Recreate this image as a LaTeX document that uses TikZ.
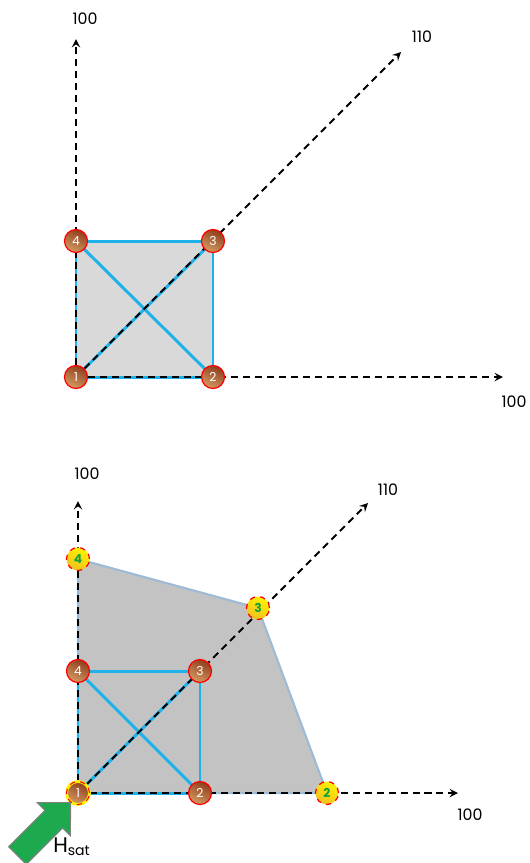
\documentclass[tikz,border=0pt]{standalone}
\usepackage{fontspec}
\setmainfont{Poppins}
\usetikzlibrary{shapes.arrows}
\definecolor{edgeblue}{HTML}{1EB1EA}
\definecolor{squaregray}{HTML}{D9D9D9}
\definecolor{polygray}{HTML}{C3C3C3}
\definecolor{polyedge}{HTML}{9DBAD6}
\definecolor{balldark}{HTML}{8E3E1C}
\definecolor{balllight}{HTML}{D49A62}
\definecolor{yellowdark}{HTML}{F0C020}
\definecolor{yellowlight}{HTML}{FFF200}
\definecolor{hsatgreen}{HTML}{1DAA4E}
\definecolor{numgreen}{HTML}{12A040}
\begin{document}
\begin{tikzpicture}[x=0.02cm, y=-0.02cm, >=stealth, every node/.style={font=\small},
    axis/.style={->, line width=1.1pt, dash pattern=on 4pt off 2.8pt},
    edge/.style={edgeblue, line width=1.7pt},
    corner/.style={circle, inner sep=0pt, minimum size=0.46cm, draw=red, line width=0.7pt, top color=balldark, bottom color=balllight, shading angle=-25, text=white, font=\scriptsize},
    far/.style={corner, top color=yellowlight, bottom color=yellowdark, shading angle=-25, text=numgreen, dashed, font=\scriptsize\bfseries},
    origin/.style={corner, draw=yellow, line width=1.6pt, postaction={draw=red, dashed, line width=0.6pt}}]
    \useasboundingbox (0,0) rectangle (530,863);
    % top: unit square
    \coordinate (t1) at (76,377);
    \coordinate (t2) at (213,377);
    \coordinate (t3) at (213,241);
    \coordinate (t4) at (76,241);
    \coordinate (ty) at (76,39);
    \coordinate (tx) at (503,377);
    \coordinate (td) at (401,52);
    \fill[squaregray] (t1) -- (t2) -- (t3) -- (t4) -- cycle;
    \draw[edge] (t1) -- (t2) -- (t3) -- (t4) -- cycle;
    \draw[edge] (t4) -- (t2);
    \draw[edge] (t1) -- (t3);
    \draw[axis] (t1) -- (ty);
    \draw[axis] (t1) -- (tx);
    \draw[axis] (t1) -- (td);
    \node (ty label) at (85,19) {100};
    \node (td label) at (422,37) {110};
    \node (tx label) at (514,402) {100};
    \node[corner] (tn1) at (t1) {1};
    \node[corner] (tn2) at (t2) {2};
    \node[corner] (tn3) at (t3) {3};
    \node[corner] (tn4) at (t4) {4};
    % bottom: expanded surface
    \coordinate (b1) at (78,793);
    \coordinate (b2) at (200,793);
    \coordinate (b3) at (200,671);
    \coordinate (b4) at (78,671);
    \coordinate (e2) at (327,793);
    \coordinate (e3) at (258,608);
    \coordinate (e4) at (78,559);
    \coordinate (by) at (78,501);
    \coordinate (bx) at (458,793);
    \coordinate (bd) at (368,503);
    \filldraw[fill=polygray, draw=polyedge, line width=1.2pt] (b1) -- (e2) -- (e3) -- (e4) -- cycle;
    \draw[edge] (b1) -- (b2) -- (b3) -- (b4) -- cycle;
    \draw[edge] (b4) -- (b2);
    \draw[edge] (b1) -- (b3);
    \draw[axis] (b1) -- (by);
    \draw[axis] (b1) -- (bx);
    \draw[axis] (b1) -- (bd);
    \node (by label) at (87,474) {100};
    \node (bd label) at (388,490) {110};
    \node (bx label) at (470,815) {100};
    \node[corner] (bn2) at (b2) {2};
    \node[corner] (bn3) at (b3) {3};
    \node[corner] (bn4) at (b4) {4};
    \node[far] (en2) at (e2) {2};
    \node[far] (en3) at (e3) {3};
    \node[far] (en4) at (e4) {4};
    \node[origin] (bn1) at (b1) {1};
    \node[single arrow, fill=hsatgreen, draw=gray, line width=0.6pt, inner xsep=0pt, inner ysep=0.24cm, minimum height=1.5cm, single arrow head extend=0.22cm, rotate=45, anchor=tip] (hsat arrow) at (71,802) {};
    \node[font=\large] (hsat) at (72,847) {H\textsubscript{sat}};
\end{tikzpicture}
\end{document}
